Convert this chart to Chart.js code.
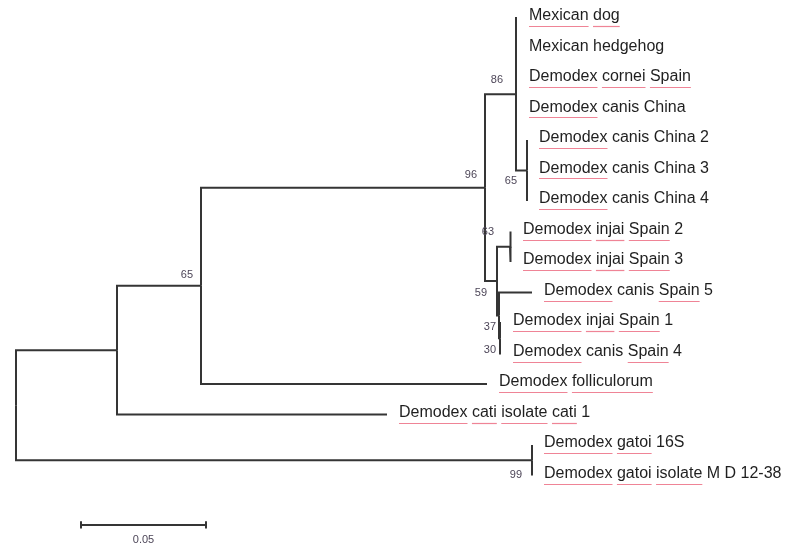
<!DOCTYPE html>
<html lang="en">
<head>
  <meta charset="UTF-8">
  <title>Demodex phylogenetic tree</title>
  <script src="https://cdn.jsdelivr.net/npm/chart.js"></script>
  <style>
    html, body { margin: 0; padding: 0; background: #fff; }
    #wrap { width: 786px; height: 547px; }
  </style>
</head>
<body>
  <div id="wrap"><canvas id="tree" width="786" height="547"></canvas></div>

  <script>
    // tips, top to bottom
    const taxa = [
      'Mexican dog', 'Mexican hedgehog', 'Demodex cornei Spain', 'Demodex canis China',
      'Demodex canis China 2', 'Demodex canis China 3', 'Demodex canis China 4',
      'Demodex injai Spain 2', 'Demodex injai Spain 3', 'Demodex canis Spain 5',
      'Demodex injai Spain 1', 'Demodex canis Spain 4', 'Demodex folliculorum',
      'Demodex cati isolate cati 1', 'Demodex gatoi 16S', 'Demodex gatoi isolate M D 12-38'
    ];
    // distance from root (substitutions/site)
    const tipDepth = [0.2004, 0.2004, 0.2004, 0.2004, 0.2044, 0.2044, 0.2044,
                      0.198, 0.198, 0.2064, 0.194, 0.194, 0.1884, 0.1484, 0.2064, 0.2064];
    const tipParent = ['D', 'D', 'D', 'D', 'E', 'E', 'E', 'G', 'G', 'K', 'L', 'L', 'B', 'A', 'H', 'H'];

    // internal nodes
    const nodes      = ['R', 'A', 'B', 'C', 'D', 'E', 'F', 'G', 'K', 'L', 'H'];
    const nodeDepth  = [0, 0.0404, 0.074, 0.1876, 0.2, 0.2044, 0.1924, 0.1976, 0.1932, 0.1936, 0.2064];
    const nodeParent = [null, 'R', 'A', 'B', 'C', 'D', 'C', 'F', 'F', 'K', 'R'];
    const bootstrap  = ['', '', '65', '96', '86', '65', '59', '63', '37', '30', '99'];

    const scaleBarLength = 0.05;
    const scaleBarLabel = '0.05';

    // ---- layout (row = tip index, internal node = middle of its children)
    const children = {};
    nodes.forEach(n => children[n] = []);
    nodes.forEach((n, i) => { if (nodeParent[i]) children[nodeParent[i]].push({ type: 'node', id: n }); });
    taxa.forEach((t, i) => children[tipParent[i]].push({ type: 'tip', id: i }));

    const rowOf = {};
    function row(item) {
      if (item.type === 'tip') return item.id;
      if (rowOf[item.id] !== undefined) return rowOf[item.id];
      const rows = children[item.id].map(row);
      rowOf[item.id] = (Math.min(...rows) + Math.max(...rows)) / 2;
      return rowOf[item.id];
    }
    row({ type: 'node', id: 'R' });

    const depthOf = {};
    nodes.forEach((n, i) => depthOf[n] = nodeDepth[i]);

    const lineColor = '#353535';
    const datasets = [];
    function edge(parent, x, y) {
      const px = depthOf[parent], py = rowOf[parent];
      datasets.push({
        data: [{ x: px, y: py }, { x: px, y: y }, { x: x, y: y }],
        showLine: true, borderColor: lineColor, borderWidth: 2,
        pointRadius: 0, fill: false, tension: 0
      });
    }
    nodes.forEach((n, i) => { if (nodeParent[i]) edge(nodeParent[i], nodeDepth[i], rowOf[n]); });
    taxa.forEach((t, i) => edge(tipParent[i], tipDepth[i], i));

    // scale bar
    const barX0 = 0.026, barRow = 16.62;
    datasets.push({
      data: [{ x: barX0, y: barRow }, { x: barX0 + scaleBarLength, y: barRow }],
      showLine: true, borderColor: lineColor, borderWidth: 2, pointRadius: 0
    });
    [barX0, barX0 + scaleBarLength].forEach(x => datasets.push({
      data: [{ x: x, y: barRow - 0.12 }, { x: x, y: barRow + 0.12 }],
      showLine: true, borderColor: lineColor, borderWidth: 2, pointRadius: 0
    }));

    // where MEGA put the support values, relative to the node
    const labelOffset = {
      B: [-8, -11], C: [-8, -13], D: [-13, -14], E: [-10, 10], F: [-10, 12],
      G: [-16, -15], K: [-3, 12], L: [-4, 12], H: [-10, 15]
    };
    // words the spell checker flagged in the original figure
    const flagged = ['Mexican', 'dog', 'Demodex', 'cornei', 'Spain', 'injai',
                     'folliculorum', 'cati', 'isolate', 'gatoi'];

    const treeText = {
      id: 'treeText',
      afterDatasetsDraw(chart) {
        const ctx = chart.ctx;
        const xs = chart.scales.x, ys = chart.scales.y;
        ctx.save();
        ctx.font = '16px "Liberation Sans", Arial, sans-serif';
        ctx.textBaseline = 'middle';
        ctx.textAlign = 'left';
        const space = ctx.measureText(' ').width;
        taxa.forEach((name, i) => {
          const x = xs.getPixelForValue(tipDepth[i]) + 12;
          const y = ys.getPixelForValue(i) - 2;
          ctx.fillStyle = '#1f1f1f';
          ctx.fillText(name, x, y);
          let cx = x;
          name.split(' ').forEach(w => {
            const ww = ctx.measureText(w).width;
            if (flagged.includes(w) && name !== 'Mexican hedgehog') {
              ctx.strokeStyle = 'rgba(232,80,105,0.7)';
              ctx.lineWidth = 1.2;
              ctx.beginPath();
              ctx.moveTo(cx, Math.round(y + 10) + 0.5);
              ctx.lineTo(cx + ww, Math.round(y + 10) + 0.5);
              ctx.stroke();
            }
            cx += ww + space;
          });
        });
        // bootstrap values
        ctx.font = '11px "Liberation Sans", Arial, sans-serif';
        ctx.fillStyle = '#4d4658';
        ctx.textAlign = 'right';
        nodes.forEach((n, i) => {
          if (!bootstrap[i]) return;
          const off = labelOffset[n] || [-6, -10];
          ctx.fillText(bootstrap[i], xs.getPixelForValue(nodeDepth[i]) + off[0], ys.getPixelForValue(rowOf[n]) + off[1]);
        });
        // scale bar label
        ctx.textAlign = 'center';
        ctx.fillText(scaleBarLabel, xs.getPixelForValue(barX0 + scaleBarLength / 2), ys.getPixelForValue(barRow) + 15);
        ctx.restore();
      }
    };

    new Chart(document.getElementById('tree'), {
      type: 'scatter',
      data: { datasets: datasets },
      options: {
        responsive: false,
        animation: false,
        layout: { padding: 0 },
        plugins: { legend: { display: false }, tooltip: { enabled: false } },
        scales: {
          x: { type: 'linear', display: false, min: -0.0064, max: 0.308 },
          y: { type: 'linear', display: false, reverse: true, min: -0.59, max: 17.344 }
        }
      },
      plugins: [treeText]
    });
  </script>
</body>
</html>
